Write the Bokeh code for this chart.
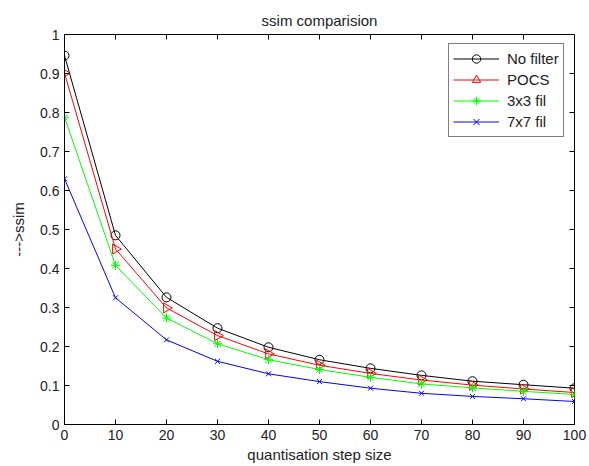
from bokeh.plotting import figure
from bokeh.models import FixedTicker, CustomJSTickFormatter, Legend, LegendItem, Range1d
from bokeh.embed import file_html
from bokeh.resources import INLINE
import math

steps = [0, 10, 20, 30, 40, 50, 60, 70, 80, 90, 100]
no_filter = [0.946, 0.485, 0.326, 0.247, 0.198, 0.166, 0.144, 0.126, 0.111, 0.102, 0.093]
pocs = [0.901, 0.450, 0.299, 0.228, 0.181, 0.152, 0.131, 0.114, 0.101, 0.091, 0.082]
fil3 = [0.788, 0.408, 0.273, 0.207, 0.166, 0.141, 0.121, 0.104, 0.094, 0.085, 0.077]
fil7 = [0.630, 0.325, 0.217, 0.162, 0.130, 0.110, 0.093, 0.080, 0.072, 0.066, 0.059]
x_ticks = [0, 10, 20, 30, 40, 50, 60, 70, 80, 90, 100]
y_ticks = [0, 0.1, 0.2, 0.3, 0.4, 0.5, 0.6, 0.7, 0.8, 0.9, 1.0]

FONT = "Liberation Sans"

p = figure(width=589, height=466, output_backend="svg", toolbar_location=None,
           x_range=Range1d(0, 100), y_range=Range1d(0, 1),
           min_border_left=64, min_border_right=15, min_border_top=34, min_border_bottom=42,
           title="ssim comparision")
p.title.align = "center"
p.title.text_font = FONT
p.title.text_font_size = "15px"
p.title.text_font_style = "normal"
p.title.text_color = "#222222"
p.title.offset = 0
p.title.standoff = 12
p.xgrid.visible = False
p.ygrid.visible = False
p.outline_line_color = "black"
p.outline_line_width = 1
p.background_fill_color = "white"
p.border_fill_color = "white"

fmt = CustomJSTickFormatter(code="return (Math.round(tick*10)/10).toString();")

def style_axis(ax):
    ax.axis_line_color = "black"
    ax.major_tick_line_color = "black"
    ax.major_tick_in = 5
    ax.major_tick_out = 0
    ax.minor_tick_line_color = None
    ax.major_label_text_font = FONT
    ax.major_label_text_font_size = "14px"
    ax.major_label_text_color = "#222222"
    ax.major_label_standoff = 5
    ax.axis_label_text_font = FONT
    ax.axis_label_text_font_size = "15px"
    ax.axis_label_text_font_style = "normal"
    ax.axis_label_text_color = "#222222"

xa = p.xaxis[0]
xa.ticker = FixedTicker(ticks=x_ticks)
xa.axis_label = "quantisation step size"
style_axis(xa)
xa.major_label_standoff = 5
xa.axis_label_standoff = 3
ya = p.yaxis[0]
ya.ticker = FixedTicker(ticks=y_ticks)
ya.formatter = fmt
ya.axis_label = "--->ssim"
style_axis(ya)
ya.major_label_standoff = 5
ya.axis_label_standoff = 10

# mirrored inward ticks on top and right edges
p.ray(x=x_ticks, y=[1.0] * len(x_ticks), length=5, length_units="screen",
      angle=-math.pi / 2, line_color="black", line_width=1)
p.ray(x=[100] * len(y_ticks), y=y_ticks, length=5, length_units="screen",
      angle=math.pi, line_color="black", line_width=1)

series = [
    ("No filter", no_filter, "black", "circle", 0.0, 9),
    ("POCS", pocs, "red", "triangle", -math.pi / 2, 10),
    ("3x3 fil", fil3, "#00ff00", "asterisk", 0.0, 9),
    ("7x7 fil", fil7, "blue", "x", 0.0, 7),
]
items = []
for name, ys, col, mk, ang, sz in series:
    l = p.line(steps, ys, line_color=col, line_width=1)
    s = p.scatter(steps, ys, marker=mk, angle=ang, size=sz, line_color=col,
                  fill_color=None, line_width=1)
    items.append(LegendItem(label=name, renderers=[l, s]))

leg = Legend(items=items, location=(384, 287))
leg.label_text_font = FONT
leg.label_text_font_size = "15px"
leg.label_text_color = "#222222"
leg.glyph_width = 46
leg.glyph_height = 21
leg.label_height = 21
leg.label_standoff = 8
leg.spacing = 0
leg.padding = 4
leg.margin = 0
leg.border_line_color = "black"
leg.border_line_width = 1
leg.background_fill_alpha = 1
p.add_layout(leg, "center")

open("out.html", "w").write(file_html(p, INLINE))
